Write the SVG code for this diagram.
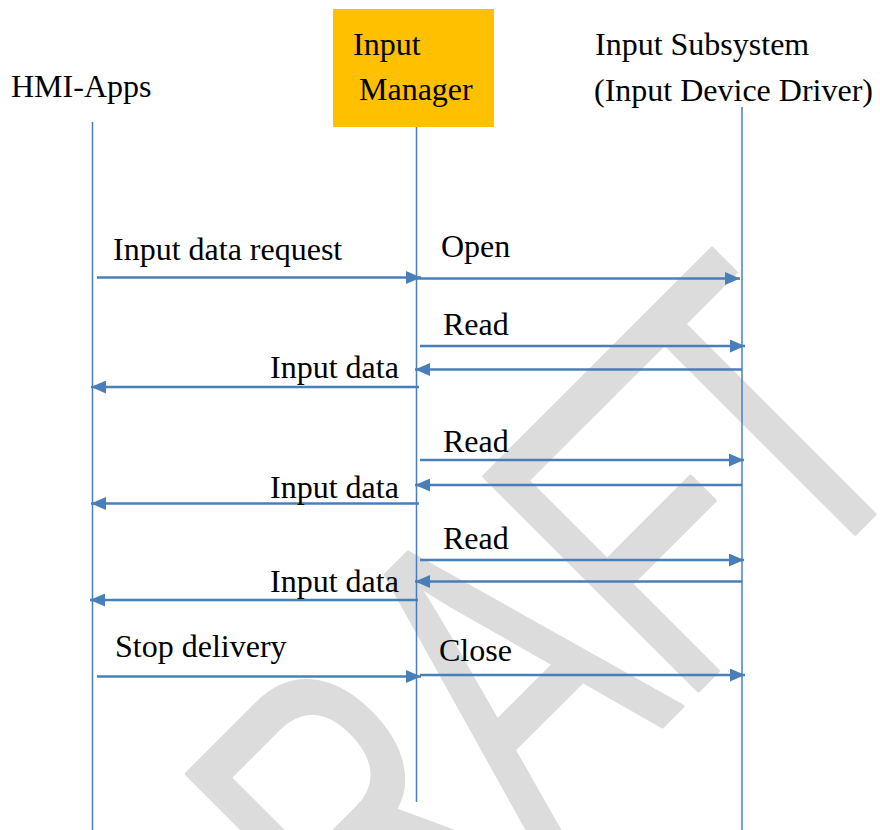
<svg xmlns="http://www.w3.org/2000/svg" width="880" height="830" viewBox="0 0 880 830">
<style>
.lbl{font-family:"Liberation Serif","Times New Roman",serif;font-size:32px;fill:#000}
.life{stroke:#4a7ebb;stroke-width:1.5;fill:none}
.msg{stroke:#4a7ebb;stroke-width:2.5;fill:none;marker-end:url(#ah)}
.wm{font-family:"Liberation Sans",Arial,sans-serif;font-size:440px;fill:#dcdcdc;stroke:#dcdcdc;stroke-width:4;stroke-linejoin:round}
</style>
<defs>
<marker id="ah" markerUnits="userSpaceOnUse" markerWidth="15" markerHeight="13" refX="15" refY="6.5" orient="auto">
<path d="M0,0 L15,6.5 L0,13 Z" fill="#4a7ebb"/>
</marker>
</defs>
<rect width="880" height="830" fill="#fff"/>
<g id="watermark">
<text class="wm" transform="rotate(-45) scale(0.7,1)" x="-1050 -630 -316 -29 210" y="982">DRAFT</text>
</g>
<g id="node-hmi">
<text class="lbl" x="11" y="97">HMI-Apps</text>
<line class="life" x1="92.5" y1="122" x2="92.5" y2="830"/>
</g>
<g id="node-manager">
<rect x="333" y="9" width="161" height="118" fill="#ffc000"/>
<text class="lbl" x="353" y="55">Input</text>
<text class="lbl" x="359" y="100">Manager</text>
<line class="life" x1="416.5" y1="127" x2="416.5" y2="802"/>
</g>
<g id="node-subsystem">
<text class="lbl" x="595" y="55">Input Subsystem</text>
<text class="lbl" x="594" y="101">(Input Device Driver)</text>
<line class="life" x1="742" y1="107" x2="742" y2="830"/>
</g>
<g id="connectors">
<line class="msg" x1="97" y1="277.5" x2="421" y2="277.5"/>
<line class="msg" x1="416" y1="278.5" x2="740" y2="278.5"/>
<line class="msg" x1="420" y1="346" x2="745" y2="346"/>
<line class="msg" x1="742" y1="369.5" x2="415" y2="369.5"/>
<line class="msg" x1="419" y1="387" x2="91" y2="387"/>
<line class="msg" x1="420" y1="460" x2="744" y2="460"/>
<line class="msg" x1="742" y1="485" x2="415" y2="485"/>
<line class="msg" x1="419" y1="503.5" x2="91" y2="503.5"/>
<line class="msg" x1="420" y1="560" x2="744" y2="560"/>
<line class="msg" x1="742" y1="581.5" x2="415" y2="581.5"/>
<line class="msg" x1="418" y1="600" x2="90" y2="600"/>
<line class="msg" x1="97" y1="676.5" x2="421" y2="676.5"/>
<line class="msg" x1="420" y1="675" x2="745" y2="675"/>
<text class="lbl" x="113" y="260">Input data request</text>
<text class="lbl" x="441" y="257">Open</text>
<text class="lbl" x="443" y="335">Read</text>
<text class="lbl" x="270" y="378">Input data</text>
<text class="lbl" x="443" y="452">Read</text>
<text class="lbl" x="270" y="498">Input data</text>
<text class="lbl" x="443" y="549">Read</text>
<text class="lbl" x="270" y="592">Input data</text>
<text class="lbl" x="115" y="657">Stop delivery</text>
<text class="lbl" x="439" y="661">Close</text>
</g>
</svg>
